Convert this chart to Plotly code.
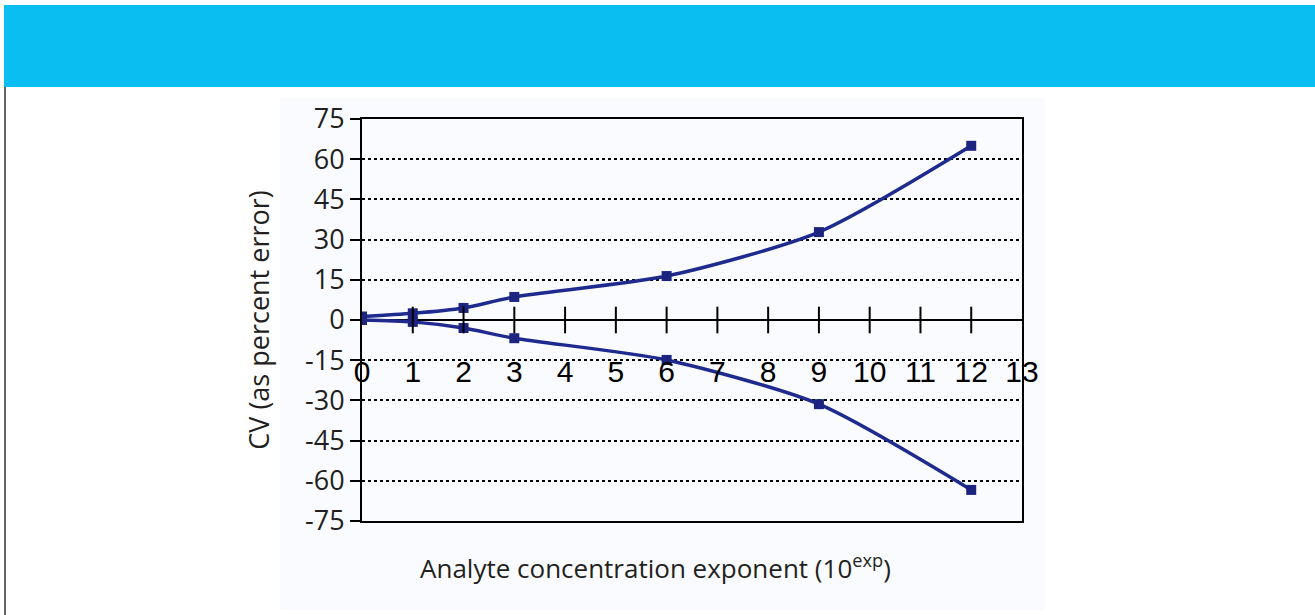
import plotly.graph_objects as go

exponents = [0, 1, 2, 3, 6, 9, 12]
cv_upper = [1.3, 2.5, 4.5, 8.6, 16.4, 32.8, 65.0]
cv_lower = [0.0, -0.7, -3.0, -6.8, -14.9, -31.4, -63.4]
x_ticks = list(range(0, 14))
y_ticks = list(range(-75, 76, 15))

line_color = "#1f2a8f"
marker_color = "#1c2480"

fig = go.Figure()
for ys in (cv_upper, cv_lower):
    fig.add_trace(go.Scatter(
        x=exponents, y=ys, mode="lines+markers",
        line=dict(color=line_color, width=3.5, shape="spline", smoothing=0.7),
        marker=dict(symbol="square", size=10, color=marker_color),
        showlegend=False, hoverinfo="skip", xaxis="x", yaxis="y"))

# crossing tick marks on the zero axis
fig.add_trace(go.Scatter(
    x=x_ticks[1:-1], y=[0] * (len(x_ticks) - 2), mode="markers",
    marker=dict(symbol="line-ns", size=19, line=dict(color="black", width=2)),
    showlegend=False, hoverinfo="skip"))

# invisible trace so the label axis is drawn
fig.add_trace(go.Scatter(
    x=x_ticks, y=[0] * len(x_ticks), mode="markers",
    marker=dict(opacity=0), showlegend=False, hoverinfo="skip",
    xaxis="x2", yaxis="y"))

W, H = 1315, 615
l, r, t, b = 362, W - 1022, 119, H - 521

def px_x(p):
    return (p - l) / (W - l - r)

def px_y(p):
    return (H - b - p) / (H - t - b)

fig.update_layout(
    width=W, height=H,
    margin=dict(l=l, r=r, t=t, b=b),
    paper_bgcolor="white",
    plot_bgcolor="#fafbfe",
    font=dict(family="Open Sans", color="#231f20"),
    xaxis=dict(range=[0, 13], showgrid=False, zeroline=False, showline=True,
               linecolor="black", linewidth=2, mirror=True, ticks="",
               showticklabels=False),
    xaxis2=dict(range=[0, 13], overlaying="x", anchor="free", position=px_y(351),
                tickvals=x_ticks, showline=False, showgrid=False, zeroline=False,
                ticks="", tickfont=dict(family="Liberation Sans", size=30, color="black")),
    yaxis=dict(range=[-75, 75], tickvals=y_ticks, ticktext=[str(v) for v in y_ticks],
               showgrid=True, gridcolor="black",
               griddash="dot", gridwidth=2, zeroline=True, zerolinecolor="black",
               zerolinewidth=2, showline=True, linecolor="black", linewidth=2,
               mirror=True, ticks="outside", ticklen=10, tickwidth=2, tickcolor="black",
               tickfont=dict(size=27, family="Open Sans", color="#231f20"),
               title=dict(text="CV (as percent error)",
                          font=dict(size=27, family="Open Sans", color="#231f20"),
                          standoff=28)),
    annotations=[
        dict(text="Analyte concentration exponent (10<sup>exp</sup>)",
             xref="paper", yref="paper", x=px_x(655), y=px_y(567),
             xanchor="center", yanchor="middle", showarrow=False,
             font=dict(size=26, family="Open Sans", color="#231f20")),
    ],
    shapes=[
        dict(type="rect", xref="paper", yref="paper", layer="below",
             x0=px_x(280), x1=px_x(1045), y0=px_y(610), y1=px_y(98),
             fillcolor="#fafbfe", line=dict(width=0)),
        dict(type="rect", xref="paper", yref="paper", layer="above",
             x0=px_x(4), x1=px_x(1315), y0=px_y(87), y1=px_y(5),
             fillcolor="#0bbef2", line=dict(width=0)),
        dict(type="line", xref="paper", yref="paper", layer="above",
             x0=px_x(5), x1=px_x(5), y0=px_y(615), y1=px_y(87),
             line=dict(color="#333333", width=1.5)),
    ],
)

fig.write_html("out.html", config={"displayModeBar": False},
               post_script="document.body.style.margin='0px';")
